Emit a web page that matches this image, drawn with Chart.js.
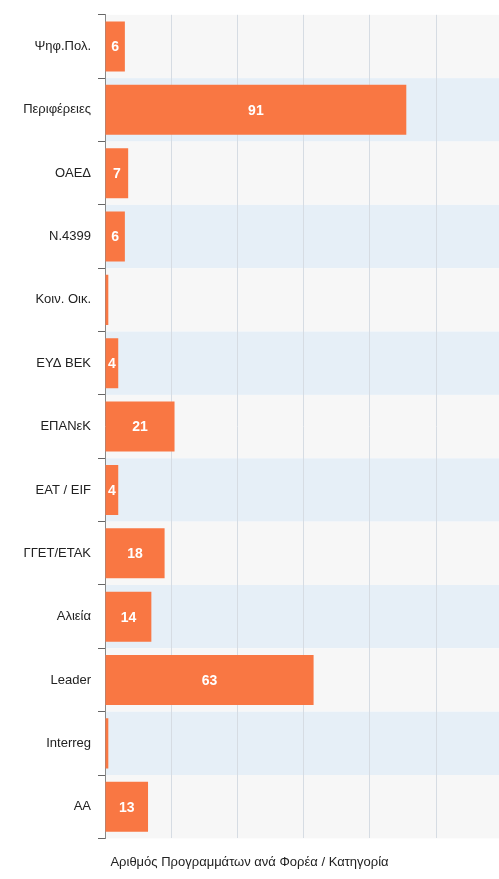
<!DOCTYPE html>
<html>
<head>
<meta charset="utf-8">
<script src="https://cdn.jsdelivr.net/npm/chart.js@4"></script>
<style>
  body { margin: 0; background: #fff; }
  canvas { display: block; }
</style>
</head>
<body>
<canvas id="chart" width="499" height="879"></canvas>
<script>
const categories = ['Ψηφ.Πολ.', 'Περιφέρειες', 'ΟΑΕΔ', 'Ν.4399', 'Κοιν. Οικ.', 'ΕΥΔ ΒΕΚ', 'ΕΠΑΝεΚ', 'ΕΑΤ / EIF', 'ΓΓΕΤ/ΕΤΑΚ', 'Αλιεία', 'Leader', 'Interreg', 'ΑΑ'];
const programmes = [6, 91, 7, 6, 1, 4, 21, 4, 18, 14, 63, 1, 13];
const chartTitle = 'Αριθμός Προγραμμάτων ανά Φορέα / Κατηγορία';

// alternating row backgrounds
const rowBands = {
  id: 'rowBands',
  beforeDraw(chart) {
    const { ctx, chartArea, scales } = chart;
    const y = scales.y;
    const half = (y.getPixelForValue(1) - y.getPixelForValue(0)) / 2;
    ctx.save();
    categories.forEach((c, i) => {
      const mid = y.getPixelForValue(i);
      ctx.fillStyle = i % 2 === 0 ? '#f7f7f7' : '#e6eff7';
      ctx.fillRect(chartArea.left, mid - half, chartArea.right - chartArea.left, half * 2);
    });
    ctx.restore();
  }
};

// value labels inside the bars
const barLabels = {
  id: 'barLabels',
  afterDatasetsDraw(chart) {
    const { ctx } = chart;
    const meta = chart.getDatasetMeta(0);
    ctx.save();
    ctx.font = 'bold 14px "Liberation Sans Narrow", "Liberation Sans", Arial, sans-serif';
    ctx.fillStyle = '#fff';
    ctx.textAlign = 'center';
    ctx.textBaseline = 'middle';
    meta.data.forEach((bar, i) => {
      const txt = String(programmes[i]);
      const w = bar.x - bar.base;
      if (w > ctx.measureText(txt).width + 3) {
        ctx.fillText(txt, (bar.x + bar.base) / 2, bar.y + 1);
      }
    });
    ctx.restore();
  }
};

new Chart(document.getElementById('chart'), {
  type: 'bar',
  data: {
    labels: categories,
    datasets: [{
      data: programmes,
      backgroundColor: '#f97743',
      borderWidth: 0,
      barPercentage: 0.79,
      categoryPercentage: 1
    }]
  },
  options: {
    indexAxis: 'y',
    responsive: false,
    animation: false,
    layout: { padding: { top: 14, right: 0, left: 0 } },
    plugins: {
      legend: { display: false },
      tooltip: { enabled: false },
      title: {
        display: true,
        text: chartTitle,
        position: 'bottom',
        color: '#222',
        font: { family: '"Liberation Sans", Arial, sans-serif', size: 13, weight: 'normal' },
        padding: { top: 16, bottom: 9 }
      }
    },
    scales: {
      x: {
        min: 0,
        max: 119,
        ticks: { display: false, stepSize: 20 },
        border: { display: false },
        grid: {
          drawTicks: false,
          color: (c) => (c.tick && c.tick.value % 20 === 0 && c.tick.value > 0) ? '#d6dce3' : 'rgba(0,0,0,0)'
        }
      },
      y: {
        afterFit(scale) { scale.width = 105; },
        border: { color: '#888' },
        grid: { drawOnChartArea: false, tickLength: 7, color: '#666', offset: true },
        ticks: {
          color: '#222',
          padding: 7,
          font: { family: '"Liberation Sans", Arial, sans-serif', size: 13 }
        }
      }
    }
  },
  plugins: [rowBands, barLabels]
});
</script>
</body>
</html>
